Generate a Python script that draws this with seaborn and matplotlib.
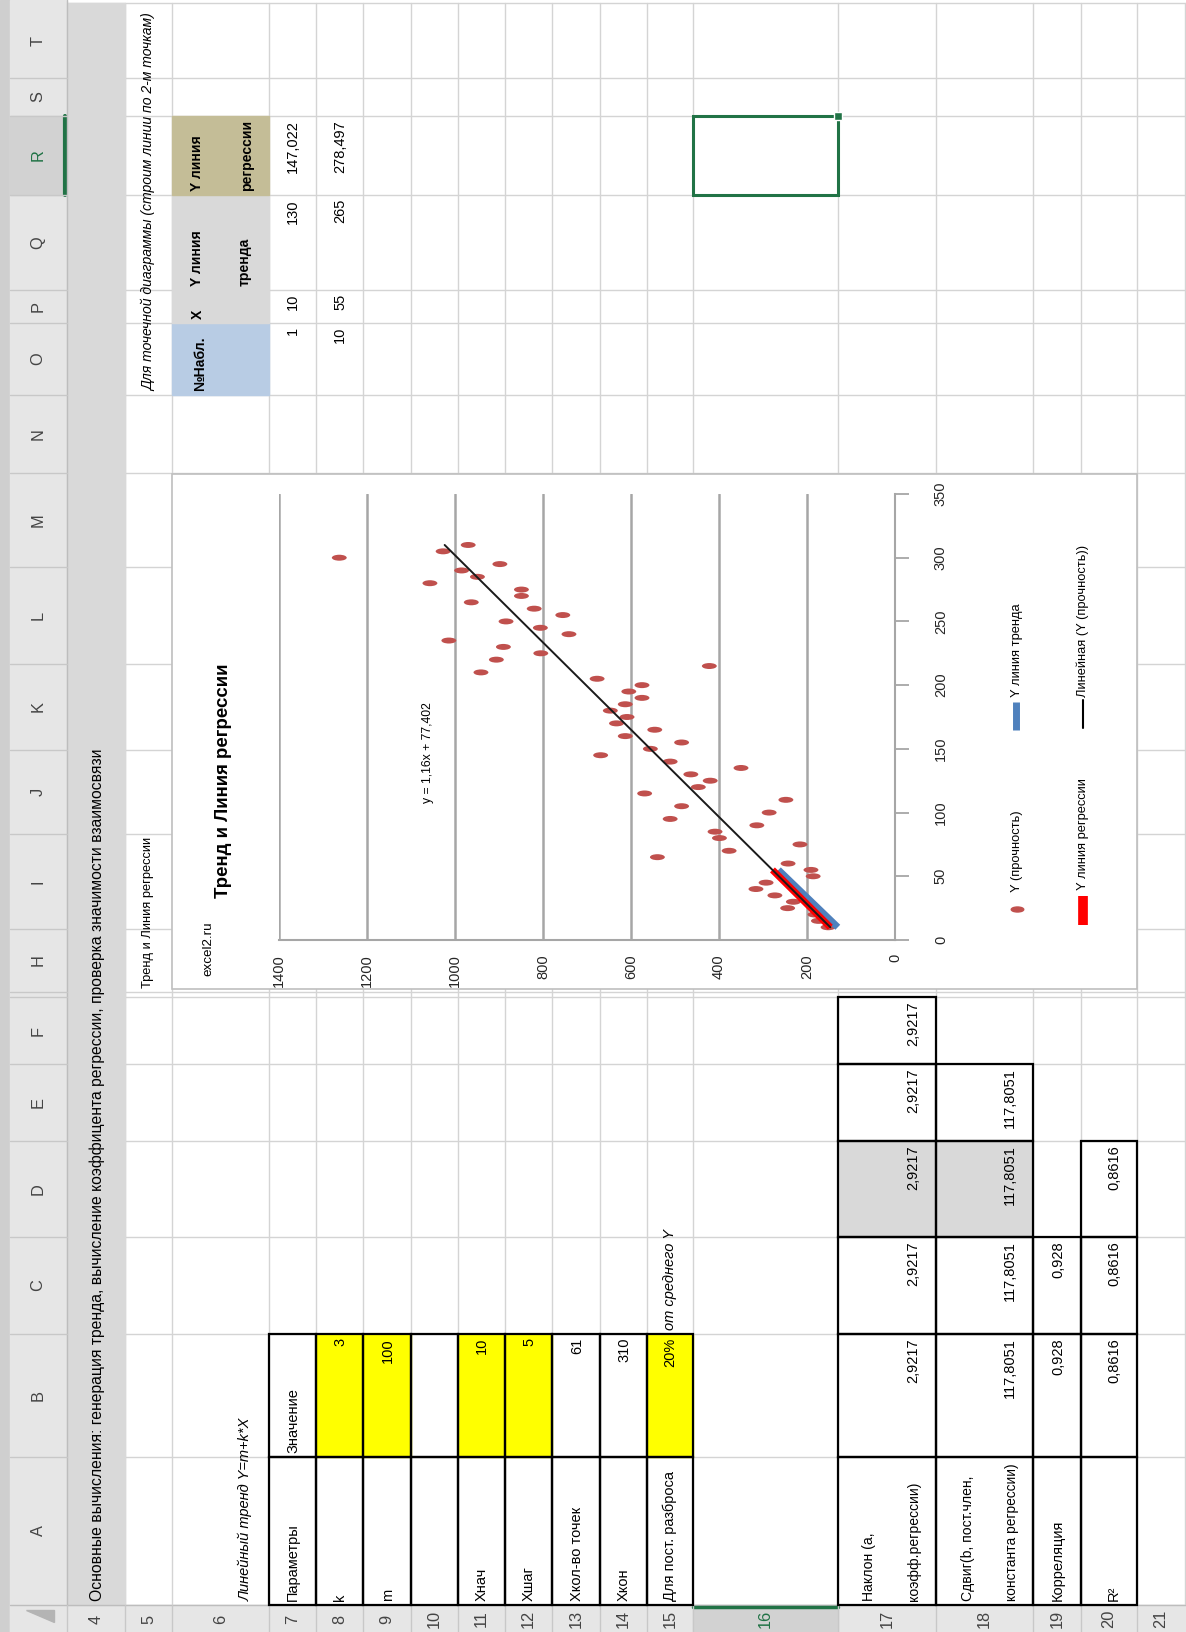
import matplotlib
matplotlib.use('Agg')
import matplotlib.pyplot as plt
import matplotlib.font_manager as fm
from matplotlib.path import Path
from matplotlib.transforms import Affine2D
from matplotlib.patches import Rectangle, Polygon
import seaborn as sns

# ---- chart data ----
x_vals = [10, 15, 20, 25, 30, 35, 40, 45, 50, 55, 60, 65, 70, 75, 80, 85, 90, 95,
          100, 105, 110, 115, 120, 125, 130, 135, 140, 145, 150, 155, 160, 165,
          170, 175, 180, 185, 190, 195, 200, 205, 210, 215, 220, 225, 230, 235,
          240, 245, 250, 255, 260, 265, 270, 275, 280, 285, 290, 295, 300, 305, 310]
y_vals = [152, 174, 182, 244, 231, 273, 316, 293, 186, 191, 243, 540, 377, 216,
          399, 409, 314, 511, 286, 485, 248, 569, 447, 420, 464, 350, 511, 669,
          556, 485, 613, 546, 633, 609, 647, 613, 575, 605, 575, 677, 941, 422,
          906, 805, 890, 1014, 741, 806, 884, 755, 820, 963, 849, 849, 1057, 949,
          985, 898, 1263, 1027, 970]

# two-point lines from the sheet table
line_x = [10, 55]
trend_y = [130, 265]
regr_y = [147.022, 278.497]
slope = 2.9217
intercept = 117.8051

x_ticks = [0, 50, 100, 150, 200, 250, 300, 350]
y_ticks = [0, 200, 400, 600, 800, 1000, 1200, 1400]

# ---- sheet layout (pixels of the rotated screenshot) ----
row_names = list(range(4, 22))
row_edges = [67, 125, 172, 269, 316, 363, 411, 458, 505, 552, 600, 647, 693,
             838, 936, 1033, 1081, 1137, 1185]
col_names = ['T', 'S', 'R', 'Q', 'P', 'O', 'N', 'M', 'L', 'K', 'J', 'I', 'H',
             'G', 'F', 'E', 'D', 'C', 'B', 'A']
col_edges = [3, 78, 116, 195, 290, 323, 395, 473, 567, 664, 750, 834, 929,
             992, 997, 1064, 1141, 1237, 1334, 1457, 1605]
ROWS = {r: (row_edges[i], row_edges[i + 1]) for i, r in enumerate(row_names)}
COLS = {c: (col_edges[i], col_edges[i + 1]) for i, c in enumerate(col_names)}

sns.set_style('white')
names = {f.name for f in fm.fontManager.ttflist}
if 'Liberation Sans Narrow' in names:
    FONT, K = 'Liberation Sans Narrow', 1.0
elif 'Liberation Sans' in names:
    FONT, K = 'Liberation Sans', 0.84
else:
    FONT, K = 'DejaVu Sans', 0.74
plt.rcParams['font.family'] = [FONT, 'DejaVu Sans']


def fs(v):
    return v * K


fig = plt.figure(figsize=(11.86, 16.32), dpi=100)
bg = fig.add_axes([0, 0, 1, 1])
bg.set_xlim(0, 1186)
bg.set_ylim(1632, 0)
bg.axis('off')
bg.set_zorder(0)

# grid
for x in row_edges:
    bg.plot([x, x], [3, 1605], color='#d4d4d4', lw=1, zorder=1)
for y in col_edges:
    bg.plot([67, 1186], [y, y], color='#d4d4d4', lw=1, zorder=1)

# headers
bg.add_patch(Rectangle((0, 0), 10, 1632, color='#cfcfcf', zorder=2))
bg.add_patch(Rectangle((10, 0), 57, 1632, color='#e6e6e6', zorder=2))
bg.add_patch(Rectangle((10, 1605), 1176, 27, color='#e6e6e6', zorder=2))
bg.add_patch(Rectangle((10, COLS['R'][0]), 57, COLS['R'][1] - COLS['R'][0],
                       color='#d2d2d2', zorder=2))
bg.add_patch(Rectangle((ROWS[16][0], 1605), ROWS[16][1] - ROWS[16][0], 27,
                       color='#d2d2d2', zorder=2))
bg.plot([65, 65], COLS['R'], color='#217346', lw=3, zorder=3)
bg.plot(ROWS[16], [1606.5, 1606.5], color='#217346', lw=2.5, zorder=3)
bg.plot([67, 67], [0, 1605], color='#bdbdbd', lw=1, zorder=3)
bg.plot([10, 1186], [1605, 1605], color='#bdbdbd', lw=1, zorder=2.5)
bg.add_patch(Polygon([(26, 1610), (54, 1610), (54, 1622)], color='#b4b4b4', zorder=3))
for y in col_edges[1:-1]:
    bg.plot([10, 67], [y, y], color='#c8c8c8', lw=1, zorder=3)
for x in row_edges[:-1]:
    bg.plot([x, x], [1605, 1632], color='#c8c8c8', lw=1, zorder=3)
for c, (y0, y1) in COLS.items():
    if c == 'G':
        continue
    bg.text(38, (y0 + y1) / 2, c, rotation=90, ha='center', va='center',
            fontsize=fs(14), color='#217346' if c == 'R' else '#444444', zorder=4)
for r, (x0, x1) in ROWS.items():
    bg.text((x0 + x1) / 2, 1619, str(r), rotation=90, ha='center', va='center',
            fontsize=fs(14), color='#217346' if r == 16 else '#444444', zorder=4)

# fills
def fill(row, col, color):
    x0, x1 = ROWS[row]
    y0, y1 = COLS[col]
    bg.add_patch(Rectangle((x0, y0), x1 - x0, y1 - y0, color=color, zorder=2))


bg.add_patch(Rectangle((67, 3), 58, 1602, color='#d9d9d9', zorder=2))
for r in [8, 9, 11, 12, 15]:
    fill(r, 'B', '#ffff00')
fill(17, 'D', '#d9d9d9')
fill(18, 'D', '#d9d9d9')
fill(6, 'O', '#b8cce4')
fill(6, 'P', '#d9d9d9')
fill(6, 'Q', '#d9d9d9')
fill(6, 'R', '#c4bd97')

# borders
boxed = [(r, c) for r in range(7, 16) for c in 'AB']
boxed += [(r, c) for r in range(17, 21) for c in 'ABC']
boxed += [(17, 'D'), (18, 'D'), (20, 'D'), (17, 'E'), (18, 'E'), (17, 'F')]
for r, c in boxed:
    x0, x1 = ROWS[r]
    y0, y1 = COLS[c]
    bg.add_patch(Rectangle((x0, y0), x1 - x0, y1 - y0, fill=False,
                           edgecolor='black', lw=1.6, zorder=4))


def put(row, col, s, align='left', x=None, size=12, **kw):
    x0, x1 = ROWS[row]
    y0, y1 = COLS[col]
    if x is None:
        x = x1 - 23
    if align == 'left':
        y, ha = y1 - 4, 'left'
    else:
        y, ha = y0 + 4, 'right'
    bg.text(x, y, s, rotation=90, rotation_mode='anchor', ha=ha, va='center',
            fontsize=fs(size), color='black', zorder=5, **kw)


put(4, 'A', 'Основные вычисления: генерация тренда, вычисление коэффицента регрессии, '
            'проверка значимости взаимосвязи', x=97, size=13.5)
put(5, 'O', 'Для точечной диаграммы (строим линии по 2-м точкам)', size=12, style='italic')
put(5, 'H', 'Тренд и Линия регрессии', x=148, size=11)
put(6, 'A', 'Линейный тренд Y=m+k*X', style='italic', size=12.5)
put(6, 'O', '№Набл.', x=200, weight='bold')
put(6, 'P', 'X', x=198, weight='bold')
put(6, 'Q', 'Y линия', x=197, weight='bold')
put(6, 'Q', 'тренда', x=245, weight='bold')
put(6, 'R', 'Y линия', x=197, weight='bold')
put(6, 'R', 'регрессии', x=247, weight='bold')
for r, vals in [(7, ['1', '10', '130', '147,022']), (8, ['10', '55', '265', '278,497'])]:
    for c, v in zip('OPQR', vals):
        put(r, c, v, align='right', size=12.5)

left_labels = {7: 'Параметры', 8: 'k', 9: 'm', 11: 'Xнач', 12: 'Xшаг',
               13: 'Xкол-во точек', 14: 'Xкон', 15: 'Для пост. разброса'}
left_values = {7: 'Значение', 8: '3', 9: '100', 11: '10', 12: '5', 13: '61',
               14: '310', 15: '20%'}
for r, s in left_labels.items():
    put(r, 'A', s, size=12.5)
for r, s in left_values.items():
    put(r, 'B', s, align='left' if r == 7 else 'right', size=12.5)
put(15, 'C', 'от среднего Y', style='italic', size=12.5)

put(17, 'A', 'Наклон (а,', x=869, size=12)
put(17, 'A', 'коэфф.регрессии)', x=914, size=12)
put(18, 'A', 'Сдвиг(b, пост.член,', x=968, size=12)
put(18, 'A', 'константа регрессии)', x=1012, size=11.8)
put(19, 'A', 'Корреляция', size=12.5)
put(20, 'A', 'R²', size=12.5)
for c in 'BCDEF':
    put(17, c, '2,9217', align='right', size=12.5)
for c in 'BCDE':
    put(18, c, '117,8051', align='right', size=12.5)
for c in 'BC':
    put(19, c, '0,928', align='right', size=12.5)
for c in 'BCD':
    put(20, c, '0,8616', align='right', size=12.5)

# selected cell R16
x0, x1 = ROWS[16]
y0, y1 = COLS['R']
bg.add_patch(Rectangle((x0, y0), x1 - x0, y1 - y0, fill=False,
                       edgecolor='#217346', lw=2.2, zorder=6))
bg.add_patch(Rectangle((x1 - 4, y0 - 4), 8, 8, facecolor='#217346',
                       edgecolor='white', lw=1, zorder=7))

# chart frame and texts
bg.add_patch(Rectangle((172, 474), 965, 515, facecolor='white',
                       edgecolor='#bfbfbf', lw=1.2, zorder=3))


def chart_text(x, y, s, size, **kw):
    bg.text(x, y, s, rotation=90, rotation_mode='anchor', ha='left', va='center',
            fontsize=fs(size), color='black', zorder=5, **kw)


chart_text(208, 976, 'excel2.ru', 11.5)
chart_text(224, 898, 'Тренд и Линия регрессии', 16, weight='bold')
chart_text(428, 803, 'y = 1,16x + 77,402', 10.5)
chart_text(1017, 892, 'Y (прочность)', 11)
chart_text(1017, 697, 'Y линия тренда', 11)
chart_text(1083, 890, 'Y линия регрессии', 11)
chart_text(1083, 697, 'Линейная (Y (прочность))', 11)

circ = Path.unit_circle()
ell = Path(Affine2D().scale(2.5, 1).transform(circ.vertices), circ.codes)
bg.plot([1017], [909], marker=ell, ms=9, color='#c0504d', ls='none', zorder=5)
bg.plot([1016, 1016], [702, 730], color='#4f81bd', lw=5, solid_capstyle='butt', zorder=5)
bg.plot([1083, 1083], [896, 925], color='#ff0000', lw=7, solid_capstyle='butt', zorder=5)
bg.plot([1083, 1083], [700, 728], color='black', lw=1.5, zorder=5)

# ---- the chart itself (rotated: X up, Y to the left) ----
ax = fig.add_axes([279 / 1186, (1632 - 940) / 1632, 616 / 1186, 446 / 1632])
ax.set_zorder(2)
ax.patch.set_visible(False)

sns.lineplot(x=trend_y, y=line_x, ax=ax, color='#4f81bd', lw=5, sort=False,
             solid_capstyle='butt', legend=False, zorder=3)
sns.lineplot(x=regr_y, y=line_x, ax=ax, color='#ff0000', lw=5, sort=False,
             solid_capstyle='butt', legend=False, zorder=4)
fit_x = [x_vals[0], x_vals[-1]]
fit_y = [intercept + slope * v for v in fit_x]
sns.lineplot(x=fit_y, y=fit_x, ax=ax, color='#1a1a1a', lw=1.4, sort=False,
             legend=False, zorder=5)
sns.scatterplot(x=y_vals, y=x_vals, ax=ax, marker=ell, s=115, color='#c0504d',
                edgecolor='none', linewidth=0, legend=False, zorder=2)

ax.set_xlim(1400, 0)
ax.set_ylim(0, 350)
ax.set_xticks(y_ticks)
ax.set_xticklabels([str(v) for v in y_ticks], rotation=90, ha='center', va='top',
                   fontsize=fs(12.5), color='#262626')
ax.set_yticks(x_ticks)
ax.yaxis.tick_right()
ax.set_yticklabels([str(v) for v in x_ticks], rotation=90, ha='left', va='center',
                   fontsize=fs(12.5), color='#262626')
ax.tick_params(axis='x', direction='out', length=4, width=1.3, color='#a6a6a6', pad=6)
ax.tick_params(axis='y', direction='out', length=10, width=1.3, color='#a6a6a6', pad=18)
ax.grid(axis='x', color='#a6a6a6', lw=1.8)
ax.grid(axis='y', visible=False)
ax.set_axisbelow(True)
for side in ['top', 'left']:
    ax.spines[side].set_visible(False)
for side in ['bottom', 'right']:
    ax.spines[side].set_color('#a6a6a6')
    ax.spines[side].set_linewidth(1.5)
ax.set_xlabel('')
ax.set_ylabel('')

fig.savefig('out.png', dpi=100)
